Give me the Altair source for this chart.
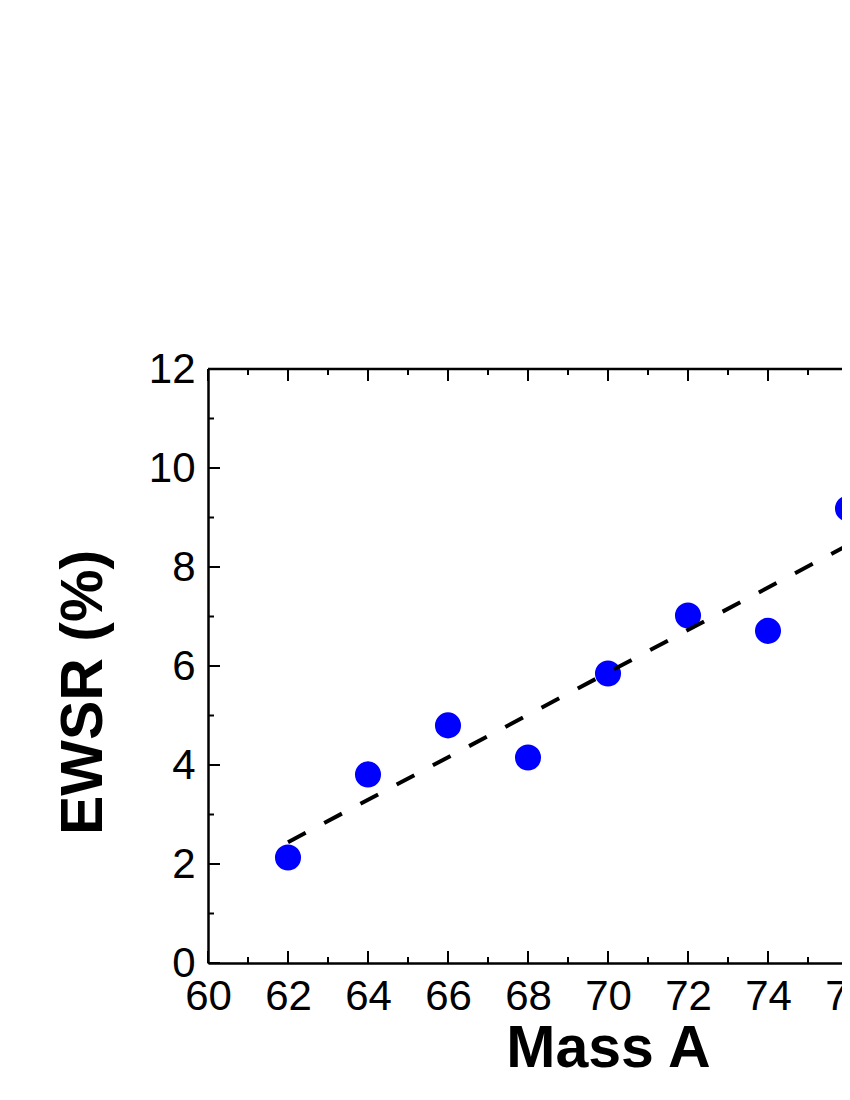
import altair as alt
import pandas as pd

mass = [62, 64, 66, 68, 70, 72, 74, 76]
ewsr = [2.13, 3.81, 4.80, 4.15, 5.85, 7.02, 6.71, 9.18]

fit_x = [62, 78]
fit_y = [2.44, 9.30]

x_major = [60, 62, 64, 66, 68, 70, 72, 74, 76, 78, 80]
x_minor = [61, 63, 65, 67, 69, 71, 73, 75, 77, 79]
y_major = [0, 2, 4, 6, 8, 10, 12]
y_minor = [1, 3, 5, 7, 9, 11]

W, H = 634, 594
FULL_W = 800
FONT = "Liberation Sans"

pts = pd.DataFrame({"x": mass, "y": ewsr})
fit = pd.DataFrame({"x": fit_x, "y": fit_y})

xs = alt.Scale(domain=[60, 80], range=[0, FULL_W], nice=False, zero=False)
ys = alt.Scale(domain=[0, 12], nice=False, zero=False)

x_axis = alt.Axis(
    values=x_major, title="Mass A", tickSize=0, grid=False,
    domain=True, domainColor="black", domainWidth=2.5,
    labelFont=FONT, labelFontSize=42, labelColor="black", labelPadding=13,
    labelOverlap=False, labelFlush=False, labelBound=False, format="d",
    titleFont=FONT, titleFontSize=59, titleFontWeight="bold", titleColor="black",
    titleBaseline="alphabetic", titleAlign="center", titleX=400, titleY=103,
)
y_axis = alt.Axis(
    values=y_major, title="EWSR (%)", tickSize=0, grid=False,
    domain=True, domainColor="black", domainWidth=2.5,
    labelFont=FONT, labelFontSize=42, labelColor="black", labelPadding=13,
    labelOverlap=False, labelFlush=False, labelBound=False, format="d",
    titleFont=FONT, titleFontSize=59, titleFontWeight="bold", titleColor="black",
    titleAngle=270, titleBaseline="alphabetic", titleAlign="center",
    titleX=-107, titleY=323,
)

points = alt.Chart(pts).mark_circle(size=680, color="#0000FF", opacity=1).encode(
    x=alt.X("x:Q", scale=xs, axis=x_axis),
    y=alt.Y("y:Q", scale=ys, axis=y_axis),
)

line = alt.Chart(fit).mark_line(
    color="black", strokeWidth=4, strokeDash=[20, 21]
).encode(x=alt.X("x:Q", scale=xs), y=alt.Y("y:Q", scale=ys))

top_frame = alt.Chart(pd.DataFrame({"x": [60]})).mark_rule(
    color="black", strokeWidth=2.5
).encode(x=alt.value(0), x2=alt.value(FULL_W), y=alt.value(0))

def xticks(vals, length, at_top):
    df = pd.DataFrame({"x": vals})
    ypos = length / 2 if at_top else H - length / 2
    return alt.Chart(df).mark_tick(
        orient="vertical", size=length, thickness=2, color="black", opacity=1
    ).encode(x=alt.X("x:Q", scale=xs), y=alt.value(ypos))

def yticks(vals, length):
    df = pd.DataFrame({"y": vals})
    return alt.Chart(df).mark_tick(
        orient="horizontal", size=length, thickness=2, color="black", opacity=1
    ).encode(y=alt.Y("y:Q", scale=ys), x=alt.value(length / 2))

chart = alt.layer(
    top_frame,
    xticks(x_major, 12, False), xticks(x_minor, 6, False),
    xticks(x_major, 12, True), xticks(x_minor, 6, True),
    yticks(y_major, 12), yticks(y_minor, 6),
    points, line,
).properties(
    width=W, height=H,
    autosize=alt.AutoSizeParams(type="none"),
    padding={"left": 200, "top": 361, "right": 0, "bottom": 120},
).configure_view(stroke=None).configure(background="white")

chart.save("out.html", embed_options={"renderer": "svg", "actions": False})
